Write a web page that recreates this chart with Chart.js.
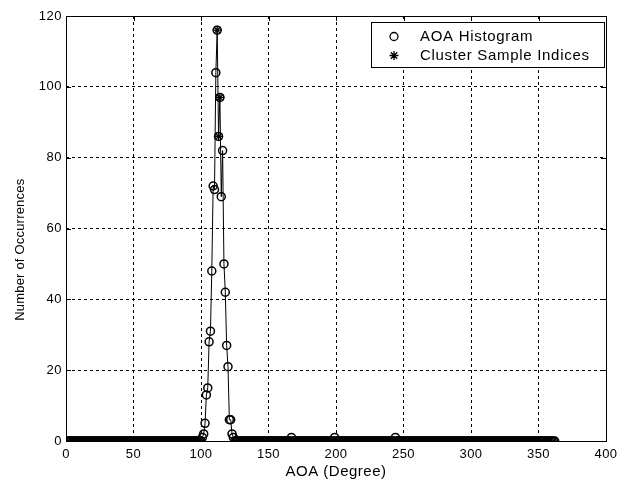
<!DOCTYPE html>
<html>
<head>
<meta charset="utf-8">
<script src="https://cdn.jsdelivr.net/npm/chart.js@4.4.1/dist/chart.umd.min.js"></script>
<style>
    html, body { margin: 0; padding: 0; background: #fff; }
</style>
</head>
<body>
<canvas id="aoaChart" width="625" height="489"></canvas>
<script>
// histogram covers every degree from firstBin to lastBin, zero outside the listed bins
const firstBin = 0;
const lastBin = 362;
const peakAngles = [101, 102, 103, 104, 105, 106, 107, 108, 109, 110, 111, 112, 113, 114, 115, 116, 117, 118, 119, 120, 121, 122, 123, 124];
const peakCounts = [1, 2, 5, 13, 15, 28, 31, 48, 72, 71, 104, 116, 86, 97, 69, 82, 50, 42, 27, 21, 6, 6, 2, 1];
const strayAngles = [167, 199, 244];
const strayCounts = [1, 1, 1];
const clusterAngles = [112, 113, 114];
const clusterCounts = [116, 86, 97];
const xTicks = [0, 50, 100, 150, 200, 250, 300, 350, 400];
const yTicks = [0, 20, 40, 60, 80, 100, 120];
const yTitle = 'Number of Occurrences';

const font = '"Liberation Sans", Arial, sans-serif';
const spacing = '0.5px';

const nonZero = {};
peakAngles.forEach((a, i) => nonZero[a] = peakCounts[i]);
strayAngles.forEach((a, i) => nonZero[a] = strayCounts[i]);

const histogram = [];
for (let a = firstBin; a <= lastBin; a++) {
    histogram.push({ x: a, y: nonZero[a] || 0 });
}
const cluster = clusterAngles.map((a, i) => ({ x: a, y: clusterCounts[i] }));

// MATLAB style box with inward ticks, y label and the boxed legend
const axesBox = {
    id: 'axesBox',
    beforeInit(chart) { chart.ctx.letterSpacing = spacing; },
    beforeDraw(chart) { chart.ctx.letterSpacing = spacing; },
    afterDatasetsDraw(chart) {
        const ctx = chart.ctx;
        const { left, right, top, bottom } = chart.chartArea;
        const xs = chart.scales.x, ys = chart.scales.y;
        ctx.save();
        ctx.strokeStyle = '#000';
        ctx.lineWidth = 1;
        ctx.setLineDash([]);
        ctx.beginPath();
        xTicks.forEach(v => {
            const px = Math.round(xs.getPixelForValue(v)) + 0.5;
            ctx.moveTo(px, bottom); ctx.lineTo(px, bottom - 5);
            ctx.moveTo(px, top); ctx.lineTo(px, top + 5);
        });
        yTicks.forEach(v => {
            const py = Math.round(ys.getPixelForValue(v)) + 0.5;
            ctx.moveTo(left, py); ctx.lineTo(left + 5, py);
            ctx.moveTo(right, py); ctx.lineTo(right - 5, py);
        });
        ctx.stroke();
        ctx.strokeRect(Math.round(left) + 0.5, Math.round(top) + 0.5, Math.round(right - left), Math.round(bottom - top));

        // y label, sits a little below the axes centre like the original
        ctx.save();
        ctx.translate(20, ys.getPixelForValue(54));
        ctx.rotate(-Math.PI / 2);
        ctx.fillStyle = '#000';
        ctx.font = '13px ' + font;
        ctx.letterSpacing = '0.2px';
        ctx.textAlign = 'center';
        ctx.textBaseline = 'middle';
        ctx.fillText(yTitle, 0, 0);
        ctx.restore();

        // legend
        const bx = 371.5, by = 22.5, bw = 233, bh = 45;
        ctx.fillStyle = '#fff';
        ctx.fillRect(bx, by, bw, bh);
        ctx.strokeRect(bx, by, bw, bh);
        ctx.fillStyle = '#000';
        ctx.font = '15px ' + font;
        ctx.letterSpacing = '0.7px';
        ctx.textBaseline = 'middle';
        ctx.fillText(chart.data.datasets[0].label, 420, by + 14);
        ctx.fillText(chart.data.datasets[1].label, 420, by + 33);
        ctx.beginPath();
        ctx.lineWidth = 1.3;
        ctx.arc(394, by + 14, 4, 0, Math.PI * 2);
        ctx.stroke();
        Chart.helpers.drawPoint(ctx, { pointStyle: 'star', radius: 4.5, borderWidth: 1.3 }, 394, by + 33);
        ctx.restore();
    }
};

new Chart(document.getElementById('aoaChart'), {
    type: 'scatter',
    data: {
        datasets: [{
            label: 'AOA Histogram',
            data: histogram,
            showLine: true,
            borderColor: '#000',
            borderWidth: 1,
            pointStyle: 'circle',
            pointRadius: 4,
            pointBorderWidth: 1.5,
            pointBorderColor: '#000',
            pointBackgroundColor: 'rgba(0,0,0,0)',
            tension: 0
        }, {
            label: 'Cluster Sample Indices',
            data: cluster,
            showLine: false,
            pointStyle: 'star',
            pointRadius: 4.5,
            pointBorderWidth: 1.3,
            pointBorderColor: '#000',
            pointBackgroundColor: '#000'
        }]
    },
    options: {
        responsive: false,
        animation: false,
        events: [],
        layout: { padding: { top: 16, right: 19, left: 0, bottom: 8 } },
        plugins: { legend: { display: false }, tooltip: { enabled: false } },
        scales: {
            x: {
                type: 'linear',
                min: 0,
                max: 400,
                afterBuildTicks: s => { s.ticks = xTicks.map(v => ({ value: v })); },
                afterFit: s => { s.height = 40; },
                grid: { color: '#000', lineWidth: 1, drawTicks: false },
                border: { display: false, dash: [3, 3] },
                ticks: { color: '#000', font: { family: font, size: 13 }, padding: 6, maxRotation: 0 },
                title: { display: true, text: 'AOA (Degree)', color: '#000', font: { family: font, size: 15 }, padding: { top: 0, bottom: 0 } }
            },
            y: {
                type: 'linear',
                min: 0,
                max: 120,
                afterBuildTicks: s => { s.ticks = yTicks.map(v => ({ value: v })); },
                afterFit: s => { s.width = 66; },
                grid: { color: '#000', lineWidth: 1, drawTicks: false },
                border: { display: false, dash: [3, 3] },
                ticks: { color: '#000', font: { family: font, size: 13 }, padding: 4 }
            }
        }
    },
    plugins: [axesBox]
});
</script>
</body>
</html>
